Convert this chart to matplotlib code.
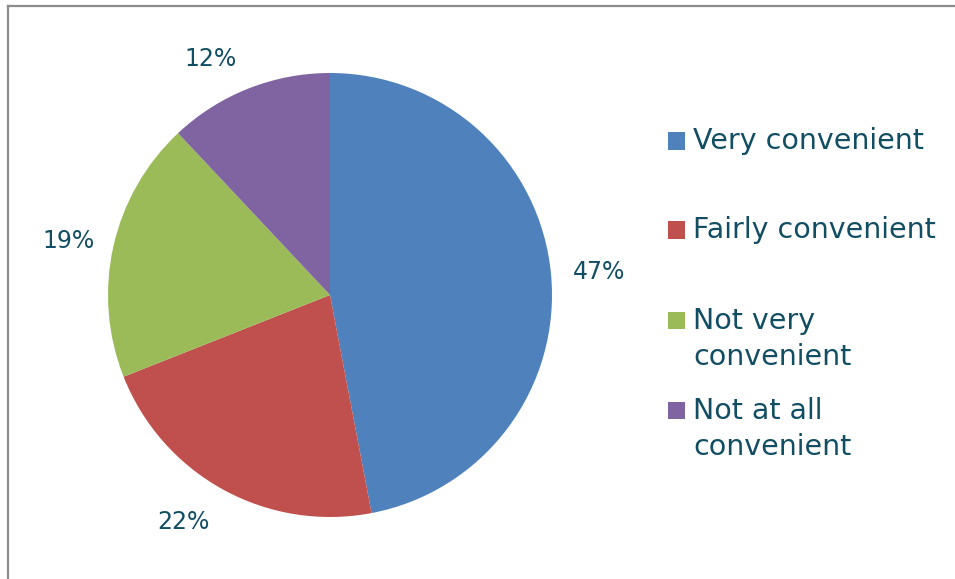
import matplotlib.pyplot as plt
from matplotlib.lines import Line2D
from matplotlib.patches import Rectangle

# survey answers, share of respondents in percent
categories = ["Very convenient", "Fairly convenient", "Not very\nconvenient", "Not at all\nconvenient"]
shares = [47, 22, 19, 12]
colors = ["#4F81BD", "#C0504D", "#9BBB59", "#8064A2"]
text_color = "#124E63"

W, H = 955, 579
fig = plt.figure(figsize=(W / 100, H / 100), dpi=100)
plt.rcParams['font.family'] = ['DejaVu Sans']

# pie centre and radius in pixels
cx, cy, r = 330, 295, 222
ax = fig.add_axes([(cx - r) / W, (H - cy - r) / H, 2 * r / W, 2 * r / H])
wedges, texts = ax.pie(shares, colors=colors, startangle=90, counterclock=False,
                       labels=[f"{s}%" for s in shares], labeldistance=1.21,
                       textprops=dict(color=text_color, fontsize=17))

# small pixel nudges of the percentage labels (x right, y up)
nudges = [(2, -2), (-17, 8), (1, -5), (-21, -14)]
for t, (dx, dy) in zip(texts, nudges):
    x, y = t.get_position()
    t.set_position((x + dx / r, y + dy / r))
    t.set_ha('center')
    t.set_va('center')
ax.set_xlim(-1, 1)
ax.set_ylim(-1, 1)
ax.set_aspect('equal')
ax.axis('off')

# legend drawn by hand so the rows sit where they should
rows_y = [141, 230, 320, 410]
for label, col, y in zip(categories, colors, rows_y):
    fig.patches.append(Rectangle((668 / W, (H - y - 8.5) / H), 17 / W, 17 / H,
                                 transform=fig.transFigure, facecolor=col, edgecolor='none'))
    if '\n' in label:
        fig.text(693 / W, (H - y + 13) / H, label, color=text_color, fontsize=20.5,
                 ha='left', va='top', linespacing=1.36)
    else:
        fig.text(693 / W, (H - y) / H, label, color=text_color, fontsize=20.5,
                 ha='left', va='center')

# frame of the chart area (left and top edges)
fig.add_artist(Line2D([7.5 / W, 7.5 / W], [0, (H - 5.5) / H], transform=fig.transFigure,
                      color='#8C8C8C', lw=1.6))
fig.add_artist(Line2D([7.5 / W, 1], [(H - 5.5) / H, (H - 5.5) / H], transform=fig.transFigure,
                      color='#8C8C8C', lw=1.6))

fig.savefig("out.png", dpi=100)
